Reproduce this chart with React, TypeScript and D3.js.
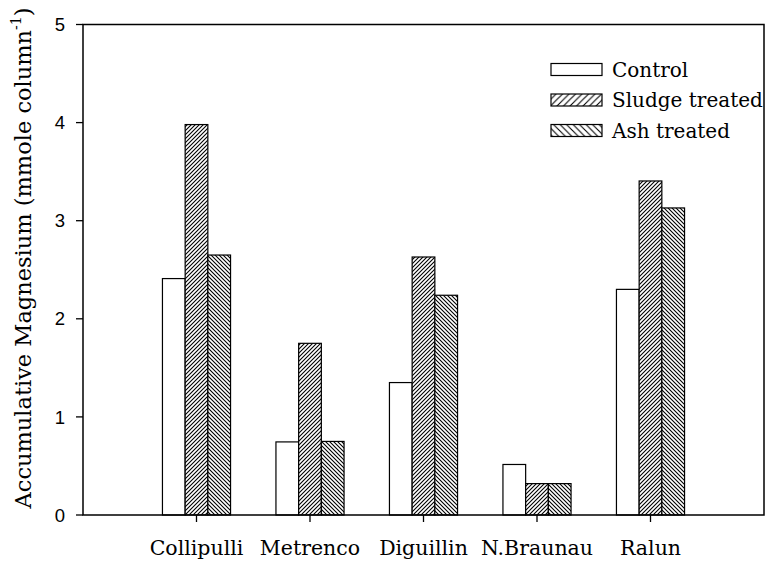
import React from 'react';
import * as d3 from 'd3';

const categories = ['Collipulli', 'Metrenco', 'Diguillin', 'N.Braunau', 'Ralun'];
const seriesNames = ['Control', 'Sludge treated', 'Ash treated'];
const control = [2.41, 0.745, 1.35, 0.515, 2.3];
const sludge = [3.98, 1.75, 2.63, 0.32, 3.405];
const ash = [2.65, 0.75, 2.24, 0.32, 3.13];
const yTicks = [0, 1, 2, 3, 4, 5];

const W = 766;
const H = 565;
const left = 83;
const right = 764;
const top = 24.5;
const bottom = 515;

export default function App() {
  const x = d3.scaleLinear().domain([0, categories.length + 1]).range([left, right]);
  const y = d3.scaleLinear().domain([0, 5]).range([bottom, top]);
  const series = [control, sludge, ash];
  const fills = ['#fff', 'url(#fwd)', 'url(#back)'];
  const legendFills = ['#fff', 'url(#fwdL)', 'url(#backL)'];
  const bw = x(0.2) - x(0);
  const serif = '"DejaVu Serif", "Liberation Serif", serif';
  const sans = '"Liberation Sans", Arial, sans-serif';

  return (
    <svg width={W} height={H} style={{ position: 'absolute', left: 0, top: 0, background: '#fff' }}>
      <defs>
        <pattern id="fwd" patternUnits="userSpaceOnUse" width={4} height={4}>
          <rect width={4} height={4} fill="#fff" />
          <path d="M-1,1 L1,-1 M0,4 L4,0 M3,5 L5,3" stroke="#000" strokeWidth={1.1} />
        </pattern>
        <pattern id="back" patternUnits="userSpaceOnUse" width={4} height={4}>
          <rect width={4} height={4} fill="#fff" />
          <path d="M-1,3 L1,5 M0,0 L4,4 M3,-1 L5,1" stroke="#000" strokeWidth={1.1} />
        </pattern>
        <pattern id="fwdL" patternUnits="userSpaceOnUse" width={6.5} height={6.5}>
          <rect width={6.5} height={6.5} fill="#fff" />
          <path d="M-1,1 L1,-1 M0,6.5 L6.5,0 M5.5,7.5 L7.5,5.5" stroke="#000" strokeWidth={1.1} />
        </pattern>
        <pattern id="backL" patternUnits="userSpaceOnUse" width={6.5} height={6.5}>
          <rect width={6.5} height={6.5} fill="#fff" />
          <path d="M-1,5.5 L1,7.5 M0,0 L6.5,6.5 M5.5,-1 L7.5,1" stroke="#000" strokeWidth={1.1} />
        </pattern>
      </defs>

      {/* bars */}
      {categories.map((c, i) =>
        series.map((s, j) => {
          const x0 = x(i + 1 - 0.3 + 0.2 * j);
          return (
            <rect
              key={c + j}
              x={x0}
              y={y(s[i])}
              width={bw}
              height={y(0) - y(s[i])}
              fill={fills[j]}
              stroke="#000"
              strokeWidth={1.2}
            />
          );
        })
      )}

      {/* frame */}
      <path
        d={`M${left},${bottom} L${left},${top} L${right},${top} L${right},${bottom} Z`}
        fill="none"
        stroke="#000"
        strokeWidth={1.5}
      />

      {/* y ticks */}
      {yTicks.map((t) => (
        <g key={t}>
          <line x1={left - 7} x2={left} y1={y(t)} y2={y(t)} stroke="#000" strokeWidth={1.3} />
          <text
            x={left - 18}
            y={y(t)}
            dy="0.36em"
            textAnchor="end"
            fontFamily={sans}
            fontSize={18.5}
          >
            {t}
          </text>
        </g>
      ))}

      {/* x ticks and labels */}
      {categories.map((c, i) => (
        <g key={c}>
          <line x1={x(i + 1)} x2={x(i + 1)} y1={bottom} y2={bottom + 7} stroke="#000" strokeWidth={1.3} />
          <text x={x(i + 1)} y={555} textAnchor="middle" fontFamily={serif} fontSize={20.5}>
            {c}
          </text>
        </g>
      ))}

      {/* y title */}
      <text
        transform={`translate(31, 258) rotate(-90)`}
        textAnchor="middle"
        fontFamily={serif}
        fontSize={22.5}
      >
        Accumulative Magnesium (mmole column
        <tspan fontSize={14} dy={-10}>-1</tspan>
        <tspan dy={10}>)</tspan>
      </text>

      {/* legend */}
      {seriesNames.map((n, j) => (
        <g key={n}>
          <rect
            x={551}
            y={63.5 + j * 30.5}
            width={51}
            height={12}
            fill={legendFills[j]}
            stroke="#000"
            strokeWidth={1.2}
          />
          <text x={612} y={76.5 + j * 30.5} fontFamily={serif} fontSize={20}>
            {n}
          </text>
        </g>
      ))}
    </svg>
  );
}
